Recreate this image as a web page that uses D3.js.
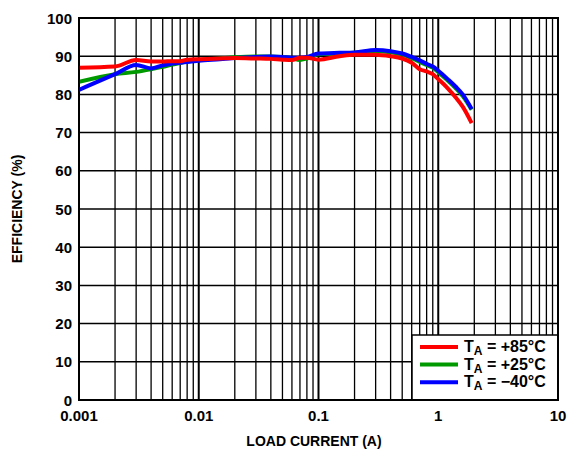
<!DOCTYPE html>
<html><head><meta charset="utf-8">
<script src="https://cdn.jsdelivr.net/npm/d3@7"></script>
<style>body{margin:0;background:#fff}svg{display:block}text{font-family:"Liberation Sans",Arial,sans-serif;font-weight:bold}</style>
</head><body><svg id="c" width="570" height="450"></svg>
<script>
const loadCurrent = [0.001,0.002,0.003,0.004,0.005,0.006,0.007,0.008,0.01,0.015,0.02,0.03,0.04,0.05,0.06,0.07,0.08,0.1,0.15,0.2,0.3,0.4,0.5,0.6,0.7,0.8,0.9,1.0,1.2,1.4,1.6,1.9];
const eff85 = [87.0,87.3,89.0,88.6,88.6,88.7,88.7,89.1,89.2,89.4,89.5,89.4,89.3,89.1,89.0,89.6,89.6,89.1,90.0,90.4,90.4,90.0,89.4,88.3,86.6,86.0,85.3,84.0,81.6,79.2,76.8,72.5];
const eff25 = [83.3,85.3,85.9,86.6,87.2,87.8,88.2,88.6,89.0,89.4,89.7,89.9,89.9,89.8,89.5,89.0,89.4,90.5,90.7,90.9,91.3,91.0,90.4,89.5,88.5,87.7,87.0,85.8,83.6,81.6,79.6,76.0];
const effM40 = [81.2,85.3,87.7,86.8,87.6,88.1,88.3,88.5,88.8,89.2,89.5,89.8,89.9,89.8,89.6,89.6,89.8,90.7,90.9,91.0,91.6,91.3,90.7,89.8,88.9,88.0,87.3,86.2,84.0,82.0,80.0,76.2];
const xTicks = [0.001,0.01,0.1,1,10];
const xTickLabels = ["0.001","0.01","0.1","1","10"];
const yTicks = [0,10,20,30,40,50,60,70,80,90,100];
const series = [
  {name:"+25°C", values:eff25, color:"#009a00"},
  {name:"\u221240°C", values:effM40, color:"#0000ff"},
  {name:"+85°C", values:eff85, color:"#ff0000"}
];
const legendOrder = [
  {name:"+85°C", color:"#ff0000"},
  {name:"+25°C", color:"#009a00"},
  {name:"\u221240°C", color:"#0000ff"}
];

const L=79,R=558,T=18,B=400;
const svg=d3.select("#c");
const x=d3.scaleLog().domain([0.001,10]).range([L,R]);
const y=d3.scaleLinear().domain([0,100]).range([B,T]);

const minor=[];
for(let d=0.001; d<10; d*=10){ for(let k=2;k<=9;k++) minor.push(d*k); }
svg.append("g").selectAll("line").data(minor).join("line")
  .attr("x1",d=>x(d)).attr("x2",d=>x(d)).attr("y1",T).attr("y2",B)
  .attr("stroke","#000").attr("stroke-width",1.3);
svg.append("g").selectAll("line").data(xTicks).join("line")
  .attr("x1",d=>x(d)).attr("x2",d=>x(d)).attr("y1",T).attr("y2",B)
  .attr("stroke","#000").attr("stroke-width",2);
svg.append("g").selectAll("line").data(yTicks).join("line")
  .attr("x1",L).attr("x2",R).attr("y1",d=>y(d)).attr("y2",d=>y(d))
  .attr("stroke","#000").attr("stroke-width",1.5);

svg.append("clipPath").attr("id","clip").append("rect").attr("x",L).attr("y",T).attr("width",R-L).attr("height",B-T);
const line=d3.line().x((d,i)=>x(loadCurrent[i])).y(d=>y(d)).curve(d3.curveMonotoneX);
const gl=svg.append("g").attr("clip-path","url(#clip)");
series.forEach(s=>{
  gl.append("path").attr("d",line(s.values)).attr("fill","none").attr("stroke",s.color)
    .attr("stroke-width",4).attr("stroke-linejoin","round");
});

const lg=svg.append("g");
lg.append("rect").attr("x",412).attr("y",335).attr("width",R-412).attr("height",B-335).attr("fill","#fff").attr("stroke","#000").attr("stroke-width",1.5);
legendOrder.forEach((s,i)=>{
  const yy=347+i*17.6;
  lg.append("line").attr("x1",420).attr("x2",458).attr("y1",yy).attr("y2",yy).attr("stroke",s.color).attr("stroke-width",4);
  const t=lg.append("text").attr("x",464).attr("y",yy+5).attr("font-size",16).attr("fill","#000");
  t.append("tspan").text("T");
  t.append("tspan").attr("font-size",12).attr("dy",3).text("A");
  t.append("tspan").attr("dy",-3).text(" = "+s.name);
});

svg.append("rect").attr("x",L).attr("y",T).attr("width",R-L).attr("height",B-T).attr("fill","none").attr("stroke","#000").attr("stroke-width",2);

svg.append("g").selectAll("text").data(yTicks).join("text")
  .attr("x",72).attr("y",d=>y(d)+5.5).attr("text-anchor","end").attr("font-size",15).text(d=>d);
svg.append("g").selectAll("text").data(xTicks).join("text")
  .attr("x",d=>x(d)).attr("y",421).attr("text-anchor","middle").attr("font-size",15).text((d,i)=>xTickLabels[i]);

svg.append("text").attr("x",314).attr("y",446).attr("text-anchor","middle").attr("font-size",14).text("LOAD CURRENT (A)");
svg.append("text").attr("transform","translate(22,209) rotate(-90)").attr("text-anchor","middle").attr("font-size",14).text("EFFICIENCY (%)");
</script></body></html>
